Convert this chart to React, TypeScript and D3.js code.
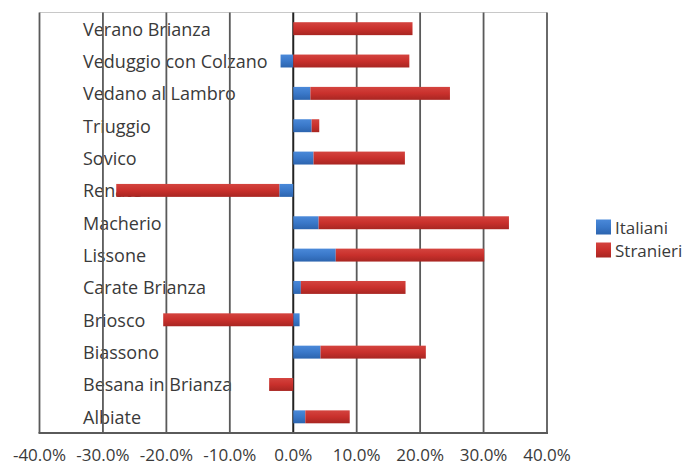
import React from "react";
import * as d3 from "d3";

const categories = [
  "Verano Brianza",
  "Veduggio con Colzano",
  "Vedano al Lambro",
  "Triuggio",
  "Sovico",
  "Renate",
  "Macherio",
  "Lissone",
  "Carate Brianza",
  "Briosco",
  "Biassono",
  "Besana in Brianza",
  "Albiate",
];
const italiani = [0, -2.0, 2.7, 2.9, 3.2, -2.2, 4.0, 6.7, 1.2, 1.0, 4.3, 0, 1.9];
const stranieri = [18.8, 18.3, 22.0, 1.2, 14.4, -25.7, 30.0, 23.4, 16.5, -20.5, 16.6, -3.8, 7.0];
const seriesNames = ["Italiani", "Stranieri"];
const xTicks = [-40, -30, -20, -10, 0, 10, 20, 30, 40];

const W = 691;
const H = 466;
const plot = { left: 39.5, right: 547, top: 12.5, bottom: 433 };
const FONT = "'Open Sans', sans-serif";

export default function App() {
  const rows = categories.map((c, i) => ({ cat: c, Italiani: italiani[i], Stranieri: stranieri[i] }));
  const stacked = d3
    .stack<any>()
    .keys(seriesNames)
    .offset(d3.stackOffsetDiverging)(rows);

  const x = d3.scaleLinear().domain([-40, 40]).range([plot.left, plot.right]);
  const y = d3
    .scaleBand<string>()
    .domain(categories)
    .range([plot.top, plot.bottom])
    .paddingInner(0.6)
    .paddingOuter(0.3);

  const fills = ["url(#gBlue)", "url(#gRed)"];

  return (
    <svg
      width={W}
      height={H}
      style={{ position: "absolute", left: 0, top: 0, background: "#fff" }}
      fontFamily={FONT}
    >
      <defs>
        <linearGradient id="gBlue" x1="0" y1="0" x2="0" y2="1">
          <stop offset="0%" stopColor="#4A89D9" />
          <stop offset="50%" stopColor="#3A78C9" />
          <stop offset="100%" stopColor="#2C64AE" />
        </linearGradient>
        <linearGradient id="gRed" x1="0" y1="0" x2="0" y2="1">
          <stop offset="0%" stopColor="#D4443F" />
          <stop offset="50%" stopColor="#C9302C" />
          <stop offset="100%" stopColor="#A82622" />
        </linearGradient>
      </defs>
      <rect x={0} y={0} width={W} height={H} fill="#fff" />

      {/* top border */}
      <line x1={plot.left} x2={plot.right} y1={plot.top} y2={plot.top} stroke="#c8c8c8" strokeWidth={1} />

      {/* category labels */}
      {categories.map((c) => (
        <text
          key={c}
          x={83}
          y={(y(c) ?? 0) + y.bandwidth() / 2}
          dominantBaseline="central"
          fontSize={18}
          fill="#3a3a3a"
        >
          {c}
        </text>
      ))}

      {/* gridlines */}
      {xTicks.map((t) => (
        <line
          key={t}
          x1={x(t)}
          x2={x(t)}
          y1={plot.top}
          y2={plot.bottom}
          stroke={t === 0 ? "#222" : "#5a5a5a"}
          strokeWidth={t === 0 ? 2 : 1.8}
        />
      ))}
      {/* bottom axis */}
      <line x1={plot.left - 1} x2={plot.right + 1} y1={plot.bottom} y2={plot.bottom} stroke="#5a5a5a" strokeWidth={1.8} />

      {/* bars */}
      {stacked.map((s, si) => (
        <g key={s.key}>
          {s.map((d: any, i: number) => {
            const x0 = x(Math.min(d[0], d[1]));
            const x1 = x(Math.max(d[0], d[1]));
            if (x1 - x0 < 0.01) return null;
            return (
              <rect
                key={i}
                x={x0}
                y={y(categories[i])}
                width={x1 - x0}
                height={y.bandwidth()}
                fill={fills[si]}
              />
            );
          })}
        </g>
      ))}

      {/* x tick labels */}
      {xTicks.map((t) => (
        <text key={t} x={x(t)} y={454} textAnchor="middle" dominantBaseline="central" fontSize={17} fill="#3a3a3a">
          {t.toFixed(1) + "%"}
        </text>
      ))}

      {/* legend */}
      {seriesNames.map((n, i) => (
        <g key={n} transform={`translate(596, ${227 + i * 23})`}>
          <rect x={0} y={-7.5} width={15} height={15} fill={fills[i]} />
          <text x={19} y={0} dominantBaseline="central" fontSize={17} fill="#3a3a3a">
            {n}
          </text>
        </g>
      ))}
    </svg>
  );
}
